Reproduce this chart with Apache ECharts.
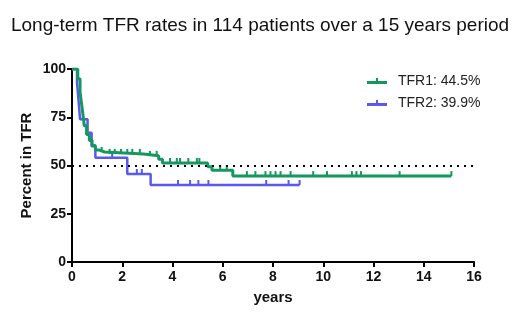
<!DOCTYPE html>
<html>
<head>
<meta charset="utf-8">
<script src="https://cdn.jsdelivr.net/npm/echarts@6/dist/echarts.min.js"></script>
<style>
  html, body { margin: 0; padding: 0; background: #fff; }
  #chart { width: 520px; height: 324px; }
</style>
</head>
<body>
<div id="chart"></div>
<script>
// step points [years, percent]
var tfr1Steps = [[0,100],[0.23,95],[0.32,88],[0.38,82],[0.44,76],[0.49,70.6],[0.58,66],[0.69,62.9],[0.8,60.3],[0.93,58],[1.09,57],[1.3,56],[2.85,55],[3.45,53.3],[3.6,51.3],[5.4,49.4],[5.57,47.5],[6.4,44.5],[15.1,44.5]];
var tfr2Steps = [[0,100],[0.2,93],[0.27,82],[0.32,74],[0.62,67],[0.78,60],[0.93,54],[2.2,45.6],[3.13,39.9],[9.06,39.9]];
// censored observations
var tfr1Censor = [[1.18,57],[1.5,56],[1.7,56],[1.95,56],[2.2,56],[2.4,56],[2.7,56],[3.1,55],[3.37,55],[3.9,51.3],[4.17,51.3],[4.3,51.3],[4.63,51.3],[4.97,51.3],[5.07,51.3],[5.9,47.5],[6.16,47.5],[6.96,44.5],[7.3,44.5],[7.7,44.5],[7.9,44.5],[8.1,44.5],[8.3,44.5],[8.7,44.5],[9.6,44.5],[10.15,44.5],[11.14,44.5],[11.32,44.5],[11.5,44.5],[13.04,44.5],[15.1,44.5]];
var tfr2Censor = [[1.6,54],[2.58,45.6],[2.78,45.6],[4.22,39.9],[4.7,39.9],[5.03,39.9],[5.43,39.9],[7.73,39.9],[8.62,39.9],[9.06,39.9]];
var names = ['TFR1: 44.5%', 'TFR2: 39.9%'];
var colors = ['#15985f', '#5959f2'];
var refLine = 50;

var tickIcon = 'path://M0,3h9v-3h2v3h9v3h-20z';
var chart = echarts.init(document.getElementById('chart'));
chart.setOption({
    animation: false,
    title: {
        text: 'Long-term TFR rates in 114 patients over a 15 years period',
        left: 'center',
        top: 11,
        textStyle: { fontFamily: 'Liberation Sans', fontSize: 19, fontWeight: 'normal', color: '#111' }
    },
    legend: {
        orient: 'vertical',
        left: 367,
        top: 74,
        padding: 0,
        itemWidth: 20,
        itemHeight: 6,
        itemGap: 8,
        data: [{ name: names[0], icon: tickIcon }, { name: names[1], icon: tickIcon }],
        textStyle: { fontFamily: 'Liberation Sans', fontSize: 14, color: '#222', padding: [0, 0, 0, 6] }
    },
    grid: { left: 72, right: 46, top: 69, bottom: 62 },
    xAxis: {
        type: 'value',
        min: 0, max: 16, interval: 2,
        name: 'years',
        nameLocation: 'middle',
        nameGap: 28,
        nameTextStyle: { fontFamily: 'Liberation Sans', fontSize: 15, fontWeight: 'bold', color: '#111' },
        axisLine: { show: true, onZero: false, lineStyle: { color: '#000', width: 2 } },
        axisTick: { show: true, length: 5, lineStyle: { color: '#000', width: 2 } },
        axisLabel: { fontFamily: 'Liberation Sans', fontSize: 14, fontWeight: 'bold', color: '#111', margin: 8 },
        splitLine: { show: false }
    },
    yAxis: {
        type: 'value',
        min: 0, max: 100, interval: 25,
        name: 'Percent in TFR',
        nameLocation: 'middle',
        nameGap: 38,
        nameMoveOverlap: false,
        nameTextStyle: { fontFamily: 'Liberation Sans', fontSize: 15, fontWeight: 'bold', color: '#111' },
        axisLine: { show: true, lineStyle: { color: '#000', width: 2 } },
        axisTick: { show: true, length: 5, lineStyle: { color: '#000', width: 2 } },
        axisLabel: { fontFamily: 'Liberation Sans', fontSize: 14, fontWeight: 'bold', color: '#111', margin: 6 },
        splitLine: { show: false }
    },
    series: [
        {
            name: names[1], type: 'line', step: 'end', data: tfr2Steps,
            showSymbol: false, color: colors[1],
            lineStyle: { width: 2.5, color: colors[1] }, z: 3
        },
        {
            name: names[1], type: 'scatter', data: tfr2Censor,
            symbol: 'rect', symbolSize: [2, 5], symbolOffset: [0, -2.5],
            itemStyle: { color: colors[1], opacity: 1 }, z: 3
        },
        {
            name: names[0], type: 'line', step: 'end', data: tfr1Steps,
            showSymbol: false, color: colors[0],
            lineStyle: { width: 3, color: colors[0] }, z: 4,
            markLine: {
                silent: true, symbol: 'none', label: { show: false },
                lineStyle: { color: '#000', type: [2, 5], width: 2 },
                data: [{ yAxis: refLine }]
            }
        },
        {
            name: names[0], type: 'scatter', data: tfr1Censor,
            symbol: 'rect', symbolSize: [2, 5], symbolOffset: [0, -2.5],
            itemStyle: { color: colors[0], opacity: 1 }, z: 4
        }
    ]
});
</script>
</body>
</html>
